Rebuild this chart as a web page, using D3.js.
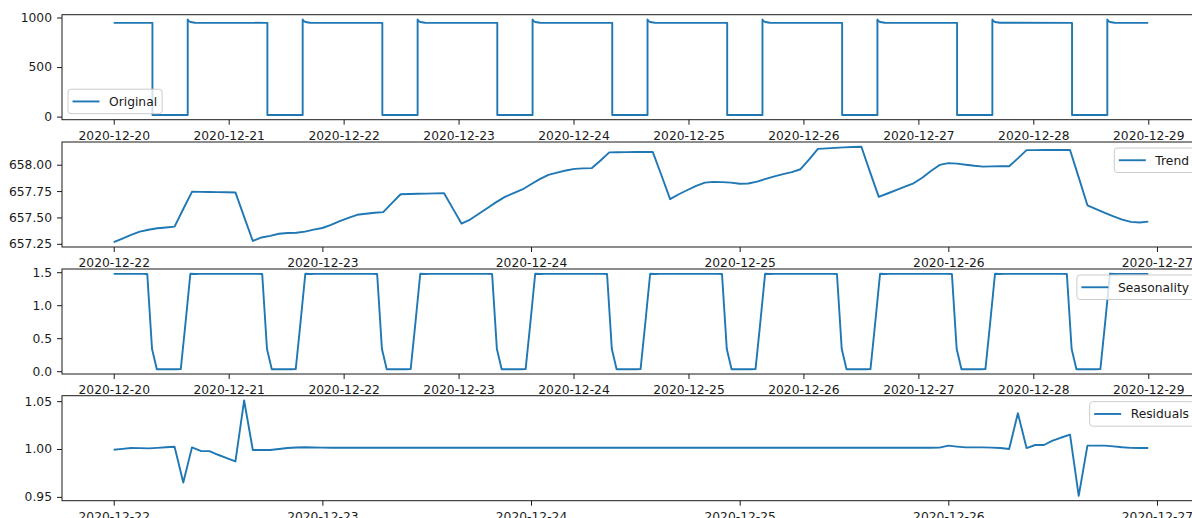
<!DOCTYPE html>
<html>
<head>
<meta charset="utf-8">
<script src="https://cdn.jsdelivr.net/npm/d3@7"></script>
<style>
  body { margin: 0; background: #fff; }
  text { font-family: "DejaVu Sans", sans-serif; fill: #1a1a1a; }
</style>
</head>
<body>
<svg id="chart"></svg>
<script>
// Original signal, read as break points (time, value)
const originalPoints = [
  ["2020-12-20 00:00", 946], ["2020-12-20 08:05", 946], ["2020-12-20 08:05", 17], ["2020-12-20 15:27", 17],
  ["2020-12-20 15:27", 980], ["2020-12-20 15:40", 965], ["2020-12-20 16:00", 955], ["2020-12-20 17:00", 947],
  ["2020-12-21 08:05", 946], ["2020-12-21 08:05", 17], ["2020-12-21 15:27", 17],
  ["2020-12-21 15:27", 980], ["2020-12-21 15:40", 965], ["2020-12-21 16:00", 955], ["2020-12-21 17:00", 947],
  ["2020-12-22 08:05", 946], ["2020-12-22 08:05", 17], ["2020-12-22 15:27", 17],
  ["2020-12-22 15:27", 980], ["2020-12-22 15:40", 965], ["2020-12-22 16:00", 955], ["2020-12-22 17:00", 947],
  ["2020-12-23 08:05", 946], ["2020-12-23 08:05", 17], ["2020-12-23 15:27", 17],
  ["2020-12-23 15:27", 980], ["2020-12-23 15:40", 965], ["2020-12-23 16:00", 955], ["2020-12-23 17:00", 947],
  ["2020-12-24 08:05", 946], ["2020-12-24 08:05", 17], ["2020-12-24 15:27", 17],
  ["2020-12-24 15:27", 980], ["2020-12-24 15:40", 965], ["2020-12-24 16:00", 955], ["2020-12-24 17:00", 947],
  ["2020-12-25 08:05", 946], ["2020-12-25 08:05", 17], ["2020-12-25 15:27", 17],
  ["2020-12-25 15:27", 980], ["2020-12-25 15:40", 965], ["2020-12-25 16:00", 955], ["2020-12-25 17:00", 947],
  ["2020-12-26 08:05", 946], ["2020-12-26 08:05", 17], ["2020-12-26 15:27", 17],
  ["2020-12-26 15:27", 980], ["2020-12-26 15:40", 965], ["2020-12-26 16:00", 955], ["2020-12-26 17:00", 947],
  ["2020-12-27 08:05", 946], ["2020-12-27 08:05", 17], ["2020-12-27 15:27", 17],
  ["2020-12-27 15:27", 980], ["2020-12-27 15:40", 965], ["2020-12-27 16:00", 955], ["2020-12-27 17:00", 947],
  ["2020-12-28 08:05", 946], ["2020-12-28 08:05", 17], ["2020-12-28 15:27", 17],
  ["2020-12-28 15:27", 980], ["2020-12-28 15:40", 965], ["2020-12-28 16:00", 955], ["2020-12-28 17:00", 947],
  ["2020-12-29 00:00", 946]
];

// hourly trend from 2020-12-22 00:00
const trendStart = "2020-12-22 00:00";
const trendValues = [
  657.265, 657.300, 657.335, 657.365, 657.383, 657.397, 657.405, 657.413, 657.580, 657.743, 657.742, 657.741,
  657.740, 657.739, 657.737, 657.505, 657.277, 657.310, 657.325, 657.345, 657.352, 657.355, 657.365, 657.385,
  657.400, 657.430, 657.465, 657.495, 657.525, 657.535, 657.545, 657.550, 657.635, 657.720, 657.722, 657.724,
  657.726, 657.728, 657.730, 657.586, 657.442, 657.480, 657.535, 657.590, 657.645, 657.695, 657.730, 657.765,
  657.815, 657.863, 657.904, 657.925, 657.945, 657.960, 657.965, 657.968, 658.040, 658.117, 658.118, 658.119,
  658.120, 658.120, 658.121, 657.900, 657.673, 657.720, 657.760, 657.800, 657.830, 657.837, 657.835, 657.830,
  657.820, 657.822, 657.840, 657.866, 657.890, 657.910, 657.930, 657.957, 658.050, 658.150, 658.155, 658.160,
  658.164, 658.168, 658.170, 657.930, 657.695, 657.727, 657.760, 657.792, 657.824, 657.877, 657.940, 657.998,
  658.015, 658.010, 658.000, 657.990, 657.982, 657.984, 657.985, 657.986, 658.060, 658.138, 658.138, 658.139,
  658.139, 658.140, 658.140, 657.880, 657.615, 657.580, 657.544, 657.510, 657.480, 657.458, 657.452, 657.460
];

// daily seasonal factors (hour 0..23), repeated over 2020-12-20 .. 2020-12-29 00:00
const seasonStart = "2020-12-20 00:00";
const seasonEnd = "2020-12-29 00:00";
const seasonalProfile = [
  1.474, 1.474, 1.474, 1.474, 1.474, 1.474, 1.474, 1.472, 0.335, 0.030, 0.030, 0.030,
  0.030, 0.030, 0.031, 0.740, 1.476, 1.473, 1.474, 1.474, 1.474, 1.474, 1.474, 1.474
];

// hourly residuals from 2020-12-22 00:00
const residualValues = [
  0.9993, 1.0002, 1.0010, 1.0009, 1.0007, 1.0012, 1.0018, 1.0024, 0.9650, 1.0017, 0.9980, 0.9978,
  0.9940, 0.9905, 0.9870, 1.0507, 0.9990, 0.9990, 0.9990, 1.0000, 1.0010, 1.0016, 1.0018, 1.0016,
  1.0014, 1.0013, 1.0013, 1.0013, 1.0013, 1.0013, 1.0013, 1.0013, 1.0013, 1.0013, 1.0013, 1.0013,
  1.0013, 1.0013, 1.0013, 1.0013, 1.0013, 1.0013, 1.0013, 1.0013, 1.0013, 1.0013, 1.0013, 1.0013,
  1.0013, 1.0013, 1.0013, 1.0013, 1.0013, 1.0013, 1.0013, 1.0013, 1.0013, 1.0013, 1.0013, 1.0013,
  1.0013, 1.0013, 1.0013, 1.0013, 1.0013, 1.0013, 1.0013, 1.0013, 1.0013, 1.0013, 1.0013, 1.0013,
  1.0013, 1.0013, 1.0013, 1.0013, 1.0013, 1.0013, 1.0013, 1.0013, 1.0013, 1.0013, 1.0013, 1.0013,
  1.0013, 1.0013, 1.0013, 1.0013, 1.0013, 1.0013, 1.0013, 1.0013, 1.0013, 1.0013, 1.0013, 1.0014,
  1.0035, 1.0025, 1.0017, 1.0017, 1.0017, 1.0015, 1.0010, 1.0000, 1.0374, 1.0010, 1.0042, 1.0042,
  1.0087, 1.0120, 1.0150, 0.9510, 1.0035, 1.0035, 1.0035, 1.0028, 1.0018, 1.0012, 1.0010, 1.0010
];

const seriesNames = ["Original", "Trend", "Seasonality", "Residuals"];
const yTicks = [[0, 500, 1000], [657.25, 657.50, 657.75, 658.00], [0, 0.5, 1.0, 1.5], [0.95, 1.00, 1.05]];
const yFormats = ["d", ".2f", ".1f", ".2f"];
const legendLoc = ["lower left", "upper right", "upper right", "upper right"];

const W = 1192, H = 518;
const left = 62, right = 1200, ph = 105;
const tops = [14.7, 142, 269, 395.7];
const fs = 12.3;
const blue = "#1f77b4";

const parse = d3.utcParse("%Y-%m-%d %H:%M");

const original = originalPoints.map(d => [parse(d[0]), d[1]]);
const trend = trendValues.map((v, i) => [d3.utcHour.offset(parse(trendStart), i), v]);
const residual = residualValues.map((v, i) => [d3.utcHour.offset(parse(trendStart), i), v]);
const seasonal = d3.utcHour.range(parse(seasonStart), d3.utcHour.offset(parse(seasonEnd), 1))
  .map((t, i) => [t, seasonalProfile[i % 24]]);

const allData = [original, trend, seasonal, residual];

function padExtent(ext) {
  const a = +ext[0], b = +ext[1], m = (b - a) * 0.05;
  return [a - m, b + m];
}

const svg = d3.select("#chart").attr("width", W).attr("height", H);
svg.append("rect").attr("width", W).attr("height", H).attr("fill", "#fff");

allData.forEach((data, i) => {
  const top = tops[i], bottom = top + ph;
  const g = svg.append("g");

  g.append("rect")
    .attr("x", left).attr("y", top)
    .attr("width", right - left).attr("height", ph)
    .attr("fill", "#fff");

  const xd = padExtent(d3.extent(data, d => d[0]));
  const x = d3.scaleUtc().domain([new Date(xd[0]), new Date(xd[1])]).range([left, right]);
  const y = d3.scaleLinear().domain(padExtent(d3.extent(data, d => d[1]))).range([bottom, top]);

  const days = d3.utcDay.range(d3.utcDay.ceil(x.domain()[0]), x.domain()[1]);

  const xAxis = g.append("g")
    .attr("transform", "translate(0," + bottom + ")")
    .call(d3.axisBottom(x).tickValues(days).tickFormat(d3.utcFormat("%Y-%m-%d"))
      .tickSize(5).tickSizeOuter(0).tickPadding(6.3));
  const yAxis = g.append("g")
    .attr("transform", "translate(" + left + ",0)")
    .call(d3.axisLeft(y).tickValues(yTicks[i]).tickFormat(d3.format(yFormats[i]))
      .tickSize(5).tickSizeOuter(0).tickPadding(5));

  [xAxis, yAxis].forEach(a => {
    a.attr("font-size", fs).attr("font-family", "DejaVu Sans");
    a.select(".domain").remove();
    a.selectAll(".tick line").attr("stroke", "#1a1a1a").attr("stroke-width", 1);
    a.selectAll(".tick text").attr("fill", "#1a1a1a");
  });

  g.append("path")
    .datum(data)
    .attr("fill", "none")
    .attr("stroke", blue)
    .attr("stroke-width", 1.9)
    .attr("stroke-linejoin", "round")
    .attr("d", d3.line().x(d => x(d[0])).y(d => y(d[1])));

  g.append("rect")
    .attr("x", left).attr("y", top)
    .attr("width", right - left).attr("height", ph)
    .attr("fill", "none").attr("stroke", "#1a1a1a").attr("stroke-width", 1);

  // legend
  const leg = g.append("g");
  const box = leg.append("rect");
  const line = leg.append("line");
  const label = leg.append("text").attr("font-size", fs).text(seriesNames[i]);
  const tw = label.node().getComputedTextLength();
  const lh = 24.5, lw = 4.5 + 27 + 9.5 + tw + 5;
  let lx, ly;
  if (legendLoc[i] === "lower left") {
    lx = left + 6; ly = bottom - 6 - lh;
  } else {
    lx = right - 6 - lw; ly = top + 6;
  }
  box.attr("x", lx).attr("y", ly).attr("width", lw).attr("height", lh)
    .attr("rx", 3).attr("fill", "#fff").attr("fill-opacity", 0.8)
    .attr("stroke", "#cccccc").attr("stroke-width", 1);
  line.attr("x1", lx + 4.5).attr("x2", lx + 31.5)
    .attr("y1", ly + lh / 2).attr("y2", ly + lh / 2)
    .attr("stroke", blue).attr("stroke-width", 1.9);
  label.attr("x", lx + 41).attr("y", ly + lh / 2).attr("dy", "0.36em");
});
</script>
</body>
</html>
